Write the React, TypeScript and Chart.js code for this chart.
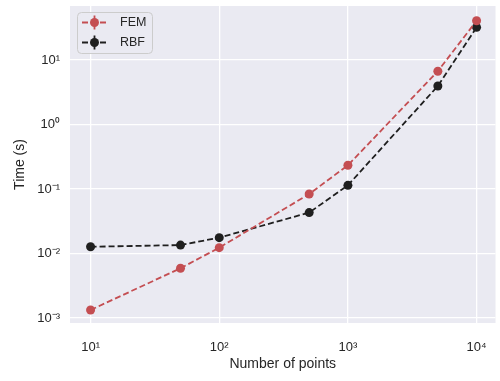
import React, { useEffect, useRef } from "react";
import { Chart, registerables } from "chart.js";

Chart.register(...registerables);

const numPoints = [10, 50, 100, 500, 1000, 5000, 10000];
const femTimes = [0.00133, 0.0059, 0.0123, 0.0835, 0.233, 6.7, 40.6];
const rbfTimes = [0.0127, 0.0135, 0.0176, 0.043, 0.114, 3.95, 32.1];
const seriesNames = ["FEM", "RBF"];
const xTitle = "Number of points";
const yTitle = "Time (s)";

const FONT = "'Liberation Sans', Arial, sans-serif";
const TEXT = "#262626";
const RED = "#c44e52";
const BLACK = "#1f1f1f";
const BG = "#eaeaf2";

const SUP: Record<string, string> = {
  "-": "\u207B", "0": "\u2070", "1": "\u00B9", "2": "\u00B2", "3": "\u00B3",
  "4": "\u2074", "5": "\u2075", "6": "\u2076", "7": "\u2077", "8": "\u2078", "9": "\u2079",
};

const isDecade = (v: number) => {
  const l = Math.log10(v);
  return Math.abs(l - Math.round(l)) < 1e-9;
};
const decadeLabel = (v: number) => {
  const e = String(Math.round(Math.log10(v)));
  return "10" + e.split("").map((c) => SUP[c] || c).join("");
};

const bgPlugin = {
  id: "plotBg",
  beforeDraw(chart: any) {
    const { ctx, chartArea: a } = chart;
    ctx.save();
    ctx.fillStyle = BG;
    ctx.fillRect(a.left, a.top, a.right - a.left, a.bottom - a.top);
    ctx.restore();
  },
};

const legendPlugin = {
  id: "customLegend",
  afterDatasetsDraw(chart: any) {
    const { ctx, chartArea: a } = chart;
    const x0 = a.left + 7;
    const y0 = a.top + 6;
    const w = 75;
    const h = 41;
    ctx.save();
    ctx.beginPath();
    ctx.roundRect(x0 + 0.5, y0 + 0.5, w, h, 4);
    ctx.fillStyle = "rgba(234,234,242,0.85)";
    ctx.fill();
    ctx.strokeStyle = "#cccccc";
    ctx.lineWidth = 1;
    ctx.stroke();
    const colors = [RED, BLACK];
    seriesNames.forEach((name, i) => {
      const cy = y0 + 10.5 + i * 20;
      const hx0 = x0 + 5;
      const hx1 = x0 + 30;
      const mx = (hx0 + hx1) / 2;
      ctx.strokeStyle = colors[i];
      ctx.fillStyle = colors[i];
      ctx.lineWidth = 1.8;
      ctx.setLineDash([6, 3]);
      ctx.beginPath();
      ctx.moveTo(hx0, cy);
      ctx.lineTo(hx1, cy);
      ctx.stroke();
      ctx.setLineDash([]);
      ctx.beginPath();
      ctx.moveTo(mx, cy - 7);
      ctx.lineTo(mx, cy + 7);
      ctx.stroke();
      ctx.beginPath();
      ctx.arc(mx, cy, 4.5, 0, Math.PI * 2);
      ctx.fill();
      ctx.fillStyle = TEXT;
      ctx.font = `12.5px ${FONT}`;
      ctx.textBaseline = "middle";
      ctx.textAlign = "left";
      ctx.fillText(name, x0 + 43, cy + 0.5);
    });
    ctx.restore();
  },
};

export default function App() {
  const ref = useRef<HTMLCanvasElement | null>(null);

  useEffect(() => {
    if (!ref.current) return;
    const mk = (label: string, data: number[], color: string) => ({
      label,
      data: numPoints.map((x, i) => ({ x, y: data[i] })),
      borderColor: color,
      backgroundColor: color,
      pointBackgroundColor: color,
      pointBorderColor: color,
      pointRadius: 4.5,
      pointBorderWidth: 0,
      borderWidth: 1.8,
      borderDash: [6, 3],
      tension: 0,
      fill: false,
    });
    const chart = new Chart(ref.current, {
      type: "line",
      data: {
        datasets: [mk(seriesNames[0], femTimes, RED), mk(seriesNames[1], rbfTimes, BLACK)],
      },
      plugins: [bgPlugin, legendPlugin],
      options: {
        animation: false,
        responsive: false,
        layout: { padding: { top: 6, right: 3, left: 0, bottom: 0 } },
        plugins: {
          legend: { display: false },
          tooltip: { enabled: false },
        },
        scales: {
          x: {
            type: "logarithmic",
            min: 6.92,
            max: 14030,
            afterBuildTicks: (s: any) => {
              s.ticks = s.ticks.filter((t: any) => isDecade(t.value));
            },
            afterFit: (s: any) => {
              s.height = 58;
              s.paddingLeft = 0;
              s.paddingRight = 0;
              s.paddingTop = 0;
              s.paddingBottom = 0;
            },
            border: { display: false },
            grid: { color: "#ffffff", lineWidth: 1.3, drawTicks: false },
            ticks: {
              color: TEXT,
              font: { family: FONT, size: 13 },
              padding: 17,
              maxRotation: 0,
              autoSkip: false,
              callback: (v: any) => (isDecade(Number(v)) ? decadeLabel(Number(v)) : ""),
            },
            title: {
              display: true,
              text: xTitle,
              color: TEXT,
              font: { family: FONT, size: 14 },
              padding: { top: 0, bottom: 8 },
            },
          },
          y: {
            type: "logarithmic",
            min: 0.000836,
            max: 68.7,
            afterBuildTicks: (s: any) => {
              s.ticks = s.ticks.filter((t: any) => isDecade(t.value));
            },
            afterFit: (s: any) => {
              s.width = 70;
              s.paddingLeft = 0;
              s.paddingRight = 0;
              s.paddingTop = 0;
              s.paddingBottom = 0;
            },
            border: { display: false },
            grid: { color: "#ffffff", lineWidth: 1.3, drawTicks: false },
            ticks: {
              color: TEXT,
              font: { family: FONT, size: 13 },
              padding: 10,
              autoSkip: false,
              callback: (v: any) => (isDecade(Number(v)) ? decadeLabel(Number(v)) : ""),
            },
            title: {
              display: true,
              text: yTitle,
              color: TEXT,
              font: { family: FONT, size: 14 },
              padding: { top: 12, bottom: 0 },
            },
          },
        },
      },
    } as any);
    return () => chart.destroy();
  }, []);

  return (
    <div style={{ position: "absolute", left: 0, top: 0, width: 500, height: 381, background: "#ffffff" }}>
      <canvas ref={ref} width={500} height={381} style={{ display: "block" }} />
    </div>
  );
}
